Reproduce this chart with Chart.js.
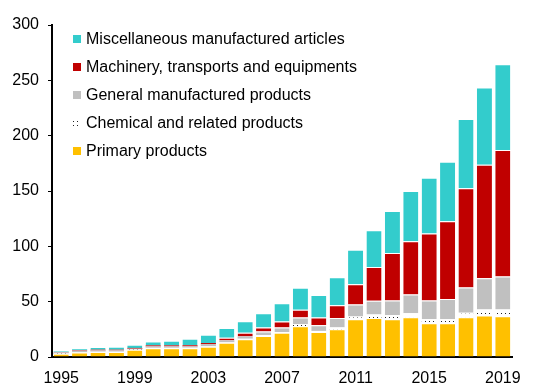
<!DOCTYPE html>
<html>
<head>
<meta charset="utf-8">
<script src="https://cdn.jsdelivr.net/npm/chart.js@4"></script>
<style>
  html, body { margin: 0; padding: 0; background: #fff; }
  #wrap { width: 556px; height: 385px; }
</style>
</head>
<body>
<div id="wrap"><canvas id="grafico"></canvas></div>
<script>
// --- DATA ---
const years = ['1995','1996','1997','1998','1999','2000','2001','2002','2003','2004','2005','2006','2007',
               '2008','2009','2010','2011','2012','2013','2014','2015','2016','2017','2018','2019'];
const yTicks = [0, 50, 100, 150, 200, 250, 300];

const primary = [3,4,4.5,4.5,6.5,8,8,8,9.3,12.9,16,19,21.8,27.8,22.7,25,34,35.3,34,35.9,30.5,30.5,36,37.4,36.8];
const chemical = [0.3,0.3,0.3,0.3,0.3,0.3,0.3,0.4,0.4,0.4,0.5,0.6,0.7,1.7,0.9,1.6,2.5,3,4,3.6,3.5,3.5,4,5.6,6.2];
const general = [0.9,1.5,1.2,1.2,0.7,1.3,1.3,1.2,1.8,1.7,2,3.4,4.1,6.1,5.1,8.7,11,12.5,13.1,17,17.1,18.3,22.8,28.2,29.7];
const machinery = [0.3,0.5,0.6,0.6,0.7,0.9,0.9,1,1.1,2.3,3.3,3.6,5.4,7.2,6.9,11.4,18.3,30.6,42.9,48.2,60.5,70.3,89.7,102.6,114.3];
const misc = [0.5,0.7,2.4,2.7,2.8,3.5,4.1,5.9,7.4,9,10.5,12.9,16.5,19.7,20.4,25.3,31.2,33.1,38,45.3,50.4,53.9,62.5,69.7,77.5];

// white with small black dots, for the chemical series
function patronPuntos() {
    const c = document.createElement('canvas');
    c.width = 4; c.height = 4;
    const g = c.getContext('2d');
    g.fillStyle = '#fff';
    g.fillRect(0, 0, 4, 4);
    g.fillStyle = '#222';
    g.fillRect(1, 1, 1, 1);
    return g.createPattern(c, 'repeat');
}

// --- LEGEND (inside the plot, top-left, reversed order) ---
const leyendaInterna = {
    id: 'leyendaInterna',
    afterDraw(chart) {
        const ctx = chart.ctx;
        const items = chart.data.datasets.slice().reverse();
        ctx.save();
        ctx.font = '16px "Liberation Sans", Arial, sans-serif';
        ctx.textBaseline = 'middle';
        items.forEach((ds, i) => {
            const y = 39 + i * 28;
            ctx.fillStyle = ds.backgroundColor;
            ctx.fillRect(73, y - 4, 8, 8);
            ctx.fillStyle = '#000';
            ctx.fillText(ds.label, 86, y + 1);
        });
        ctx.restore();
    }
};

const ctx = document.getElementById('grafico').getContext('2d');
const comun = {
    borderColor: '#fff',
    // thin white line between segments, skipped on very small ones
    borderWidth: c => (c.raw > 2 ? { top: 1, left: 0, right: 0, bottom: 0 } : 0),
    borderSkipped: false,
    barPercentage: 0.82,
    categoryPercentage: 1
};

new Chart(ctx, {
    type: 'bar',
    data: {
        labels: years,
        datasets: [
            { label: 'Primary products', data: primary, backgroundColor: '#FFC000', ...comun },
            { label: 'Chemical and related products', data: chemical, backgroundColor: patronPuntos(), ...comun },
            { label: 'General manufactured products', data: general, backgroundColor: '#C0C0C0', ...comun },
            { label: 'Machinery, transports and equipments', data: machinery, backgroundColor: '#C00000', ...comun },
            { label: 'Miscellaneous manufactured articles', data: misc, backgroundColor: '#33CCCC', ...comun }
        ]
    },
    plugins: [leyendaInterna],
    options: {
        responsive: true,
        maintainAspectRatio: false,
        animation: false,
        layout: { padding: { top: 25, right: 44, left: 0, bottom: 0 } },
        plugins: { legend: { display: false }, tooltip: { enabled: false } },
        scales: {
            x: {
                stacked: true,
                grid: { display: false },
                border: { display: true, color: '#000', width: 2 },
                ticks: {
                    autoSkip: false,
                    maxRotation: 0,
                    color: '#000',
                    padding: 4,
                    font: { family: '"Liberation Sans", Arial, sans-serif', size: 16 },
                    callback: (v, i) => (i % 4 === 0 ? years[i] : '')
                },
                afterFit: s => { s.height = 28; }
            },
            y: {
                stacked: true,
                min: 0,
                max: 300,
                afterBuildTicks: s => { s.ticks = yTicks.map(v => ({ value: v })); },
                grid: { display: true, drawOnChartArea: false, drawTicks: true, tickLength: 4, color: '#000' },
                border: { display: true, color: '#000', width: 2 },
                ticks: {
                    color: '#000',
                    padding: 9,
                    font: { family: '"Liberation Sans", Arial, sans-serif', size: 16 }
                },
                afterFit: s => { s.width = 52; }
            }
        }
    }
});
</script>
</body>
</html>
